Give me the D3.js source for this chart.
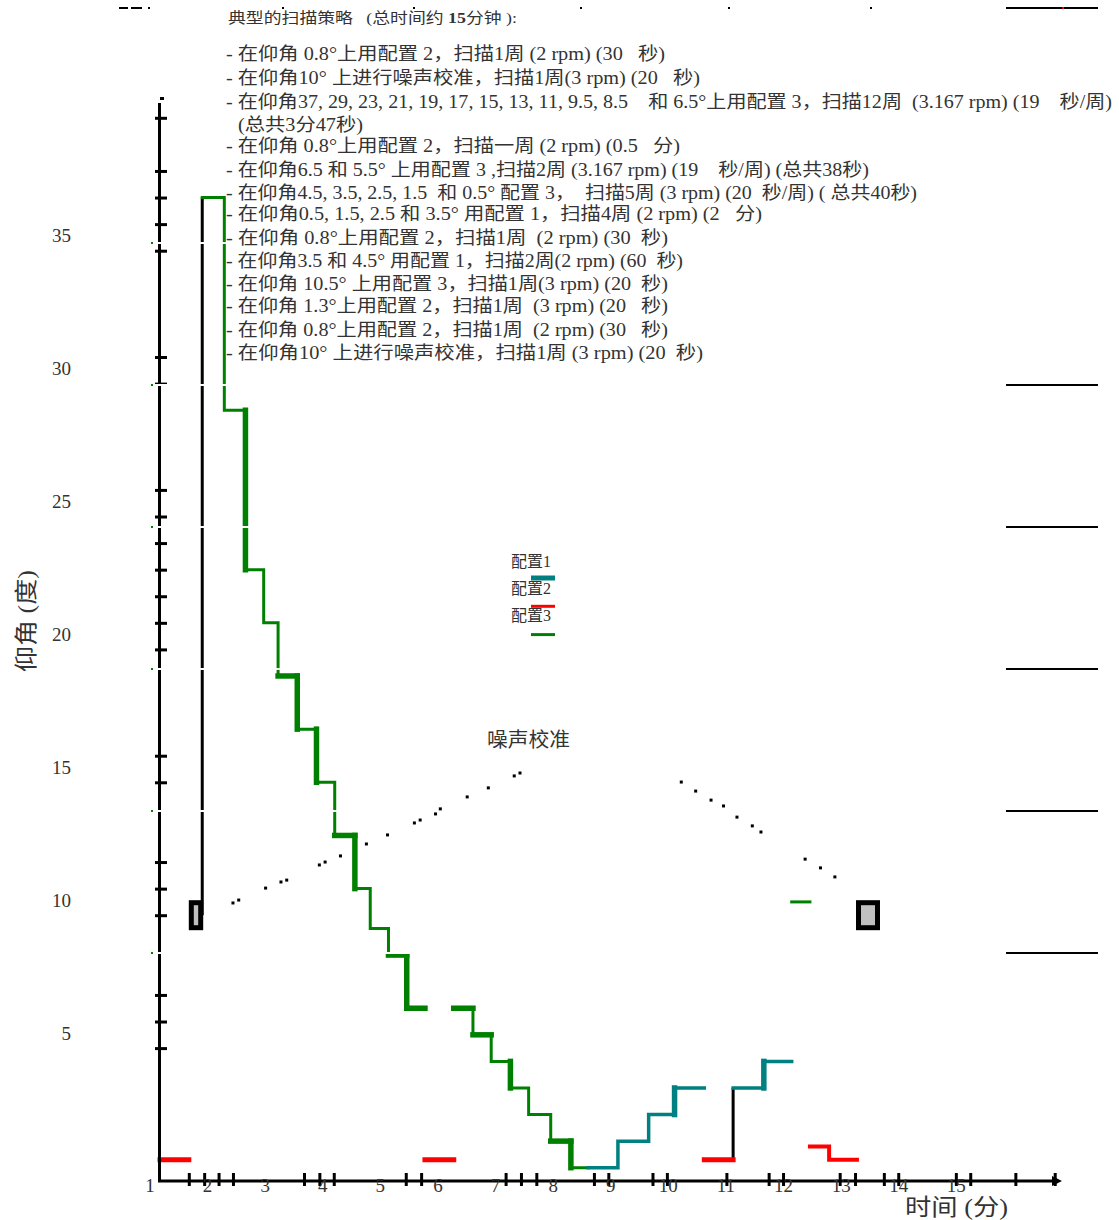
<!DOCTYPE html>
<html><head><meta charset="utf-8">
<script src="https://cdn.jsdelivr.net/npm/d3@7"></script>
<style>body{margin:0;background:#fff} svg{display:block}</style>
</head><body><svg id="c" width="1119" height="1220"></svg>
<script>
// ---------------- data (time in seconds from start, elevation in degrees) -------------
const yTickLabels = [5, 10, 15, 20, 25, 30, 35];
const yTickMarks = [5, 6, 7, 10, 11, 12, 15, 16, 20, 21, 22, 23, 24, 25, 26, 30, 31, 35, 36, 37, 38, 40];
const xTickLabels = [1, 2, 3, 4, 5, 6, 7, 8, 9, 10, 11, 12, 13, 14, 15];
const xTickMarks = [30, 46, 61, 76, 150, 166, 181, 256, 272, 360, 376, 392, 452, 467, 513, 528, 590, 634, 649, 708, 724, 754, 769, 829, 844, 891, 932];

// configuration 3 (green)
const c3Times1 = [44, 67, 89, 108, 123, 143, 163, 182, 203, 219, 238, 257, 276];
const c3Elev1  = [37, 29, 23, 21, 19, 17, 15, 13, 11, 9.5, 8.5, 6.5];
const c3Times2 = [306, 326, 345, 365, 384, 407, 428, 446];
const c3Elev2  = [6.5, 5.5, 4.5, 3.5, 2.5, 1.5, 0.5];
const c3Times3 = [658, 677];
const c3Elev3  = [10.5];
// configuration 1 (teal)
const c1Times1 = [446, 477, 509, 536, 567];
const c1Elev1  = [0.5, 1.5, 2.5, 3.5];
const c1Times2 = [597, 629, 658];
const c1Elev2  = [3.5, 4.5];
// configuration 2 (red)
const c2Times1 = [0, 30];    const c2Elev1 = [0.8];
const c2Times2 = [276, 306]; const c2Elev2 = [0.8];
const c2Times3 = [567, 597]; const c2Elev3 = [0.8];
const c2Times4 = [677, 697, 726]; const c2Elev4 = [1.3, 0.8];
// noise calibration
const noiseStart = [30, 725];
const noiseEnd   = [45, 750];
const noiseElev  = [10, 10];
// black transitions: time, from elevation, to elevation
const transTime = [44, 597];
const transFrom = [10, 0.8];
const transTo   = [37, 3.5];
// noise-calibration dotted arc
const arcTime = [76, 82, 110, 126, 132, 166, 172, 188, 215, 237, 265, 271, 287, 292, 320, 342, 369, 375,
                 543, 558, 574, 587, 601, 617, 626, 672, 688, 703];
const arcElev = [10.46, 10.57, 11.02, 11.25, 11.32, 11.89, 12.0, 12.23, 12.68, 13.02, 13.47, 13.58, 13.81, 14.0, 14.45, 14.79, 15.24, 15.35,
                 15.01, 14.67, 14.33, 14.11, 13.69, 13.36, 13.13, 12.11, 11.78, 11.44];

const legendLabels = ["配置1", "配置2", "配置3"];
const noiseLabel = "噪声校准";
const xTitle = "时间 (分)";
const yTitle = "仰角 (度)";
const notesTitle = ["典型的扫描策略   (总时间约 ", "15", "分钟 ):"];
const notes = [
  "- 在仰角 0.8°上用配置 2，扫描1周 (2 rpm) (30   秒)",
  "- 在仰角10° 上进行噪声校准，扫描1周(3 rpm) (20   秒)",
  "- 在仰角37, 29, 23, 21, 19, 17, 15, 13, 11, 9.5, 8.5    和 6.5°上用配置 3，扫描12周  (3.167 rpm) (19    秒/周)",
  "(总共3分47秒)",
  "- 在仰角 0.8°上用配置 2，扫描一周 (2 rpm) (0.5   分)",
  "- 在仰角6.5 和 5.5° 上用配置 3 ,扫描2周 (3.167 rpm) (19    秒/周) (总共38秒)",
  "- 在仰角4.5, 3.5, 2.5, 1.5  和 0.5° 配置 3，  扫描5周 (3 rpm) (20  秒/周) ( 总共40秒)",
  "- 在仰角0.5, 1.5, 2.5 和 3.5° 用配置 1，扫描4周 (2 rpm) (2   分)",
  "- 在仰角 0.8°上用配置 2，扫描1周  (2 rpm) (30  秒)",
  "- 在仰角3.5 和 4.5° 用配置 1，扫描2周(2 rpm) (60  秒)",
  "- 在仰角 10.5° 上用配置 3，扫描1周(3 rpm) (20  秒)",
  "- 在仰角 1.3°上用配置 2，扫描1周  (3 rpm) (20   秒)",
  "- 在仰角 0.8°上用配置 2，扫描1周  (2 rpm) (30   秒)",
  "- 在仰角10° 上进行噪声校准，扫描1周 (3 rpm) (20  秒)"
];

// ---------------- styles -------------
const FONT = "'Liberation Serif','Noto Sans CJK SC',serif";
const TXT = "#333";
const GREEN = "#008000", TEAL = "#008080", RED = "#ff0000";
// layout of the notes block (text x, baseline y, rendered width)
const noteX = [226, 226, 226, 238, 226, 226, 226, 226, 226, 226, 226, 226, 226, 226];
const noteY = [60, 84, 108, 131, 152, 176, 199, 220, 244, 267, 290, 312, 336, 359];
const noteW = [439, 474, 886, 125, 454, 643, 691, 536, 442, 457, 442, 442, 442, 477];
// segments drawn heavier (index into H0,V0,H1,V1,... of each run), scan look
const boldC3a = [3, 8, 9, 11, 14, 15, 20, 21, 22];
const boldC3b = [0, 2, 5, 10, 11];
const boldC1a = [5];
const boldC1b = [1];

// ---------------- drawing -------------
const svg = d3.select("#c");
const xs = d3.scaleLinear().domain([0, 900]).range([160, 160 + 900 * 0.96]);
const ys = d3.scaleLinear().domain([0, 40]).range([1181, 1181 - 40 * 26.58]);
// tick label scale (labels sit slightly left of the scan timeline)
const xLab = d3.scaleLinear().domain([1, 15]).range([xs(-11), xs(829)]);

function stepPoints(times, elev) {
  const pts = [];
  elev.forEach((e, i) => { pts.push([times[i], e]); pts.push([times[i + 1], e]); });
  return pts;
}
const line = d3.line().x(d => xs(d[0])).y(d => ys(d[1]));

const plot = svg.append("g");

// transitions
transTime.forEach((t, i) => {
  plot.append("line").attr("x1", xs(t)).attr("x2", xs(t))
    .attr("y1", ys(transFrom[i])).attr("y2", ys(transTo[i]))
    .attr("stroke", "#000").attr("stroke-width", 3);
});

function drawRun(times, elev, color, w, bold) {
  const pts = stepPoints(times, elev);
  plot.append("path").attr("d", line(pts))
    .attr("fill", "none").attr("stroke", color).attr("stroke-width", w)
    .attr("stroke-linejoin", "miter").attr("stroke-linecap", "square");
  (bold || []).forEach(k => {
    const a = pts[k], b = pts[k + 1];
    if (!a || !b) return;
    plot.append("path").attr("d", line([a, b])).attr("fill", "none")
      .attr("stroke", color).attr("stroke-width", 5.5).attr("stroke-linecap", "square");
  });
}
drawRun(c3Times1, c3Elev1, GREEN, 3, boldC3a);
drawRun(c3Times2, c3Elev2, GREEN, 3, boldC3b);
drawRun(c3Times3, c3Elev3, GREEN, 3);
drawRun(c1Times1, c1Elev1, TEAL, 3.5, boldC1a);
drawRun(c1Times2, c1Elev2, TEAL, 3.5, boldC1b);
drawRun(c2Times1, c2Elev1, RED, 5);
drawRun(c2Times2, c2Elev2, RED, 5);
drawRun(c2Times3, c2Elev3, RED, 5);
drawRun(c2Times4, c2Elev4, RED, 4);

// noise boxes
noiseStart.forEach((s, i) => {
  const x0 = xs(s), x1 = xs(noiseEnd[i]), yc = ys(noiseElev[i]);
  plot.append("rect").attr("x", x0 + 2.5).attr("y", yc - 12.5)
    .attr("width", x1 - x0 - 5).attr("height", 25)
    .attr("fill", "#c0c0c0").attr("stroke", "#000").attr("stroke-width", 5);
});

// dotted arc
arcTime.forEach((t, i) => {
  plot.append("rect").attr("x", xs(t) - 1.5).attr("y", ys(arcElev[i]) - 1.5)
    .attr("width", 3).attr("height", 3).attr("fill", "#000");
});

// axes
const xAxisMarks = d3.axisBottom(xs).tickValues(xTickMarks).tickFormat("").tickSizeOuter(0);
const gx = svg.append("g").attr("transform", "translate(0,1181)").call(xAxisMarks);
gx.select(".domain").remove();
gx.selectAll(".tick line").attr("y1", -8).attr("y2", 5).attr("stroke", "#000").attr("stroke-width", 3);
svg.append("line").attr("x1", 158).attr("x2", 1058).attr("y1", 1181).attr("y2", 1181)
  .attr("stroke", "#000").attr("stroke-width", 3);
svg.append("path").attr("d", "M1052,1176 L1062,1181 L1052,1186 Z").attr("fill", "#000");

const yAxisMarks = d3.axisLeft(ys).tickValues(yTickMarks).tickFormat("").tickSizeOuter(0);
const gy = svg.append("g").attr("transform", "translate(160,0)").call(yAxisMarks);
gy.select(".domain").remove();
gy.selectAll(".tick line").attr("x1", -5).attr("x2", 7).attr("stroke", "#000").attr("stroke-width", 3);
svg.append("line").attr("x1", 159.5).attr("x2", 159.5).attr("y1", 103).attr("y2", 1182)
  .attr("stroke", "#000").attr("stroke-width", 3);
svg.append("rect").attr("x", 160).attr("y", 97).attr("width", 4).attr("height", 3).attr("fill", "#000");

// scan artefacts: page-break rules (drawn under the text)
const rules = [243, 385, 527, 669, 811, 953];
rules.forEach(y => {
  svg.append("rect").attr("x", 148).attr("y", y - 1).attr("width", 272).attr("height", 2).attr("fill", "#fff");
  svg.append("rect").attr("x", 151).attr("y", y - 1).attr("width", 2).attr("height", 2).attr("fill", GREEN);
});
[385, 527, 669, 811, 953, 8].forEach(y => {
  svg.append("rect").attr("x", 1006).attr("y", y - 1).attr("width", 92).attr("height", 2).attr("fill", "#000");
});
svg.append("rect").attr("x", 1062).attr("y", 7).attr("width", 2).attr("height", 2).attr("fill", RED);
[[119, 9], [131, 11], [148, 2]].forEach(d => svg.append("rect").attr("x", d[0]).attr("y", 7).attr("width", d[1]).attr("height", 2).attr("fill", "#000"));
[282, 413, 580, 728, 870].forEach(x => svg.append("rect").attr("x", x).attr("y", 7).attr("width", 2).attr("height", 2).attr("fill", "#000"));

// tick labels
const gxl = svg.append("g").attr("transform", "translate(0,1192)")
  .call(d3.axisBottom(xLab).tickValues(xTickLabels).tickSize(0).tickPadding(0));
gxl.select(".domain").remove();
gxl.selectAll("text").attr("font-family", FONT).attr("font-size", 19).attr("fill", TXT)
  .attr("dy", 0).attr("y", 0);

const gyl = svg.append("g").attr("transform", "translate(71,-15)")
  .call(d3.axisLeft(ys).tickValues(yTickLabels).tickSize(0).tickPadding(0));
gyl.select(".domain").remove();
gyl.selectAll("text").attr("font-family", FONT).attr("font-size", 19).attr("fill", TXT);

// axis titles
svg.append("text").attr("x", 905).attr("y", 1215).attr("font-family", FONT)
  .attr("font-size", 23).attr("fill", TXT).attr("textLength", 103)
  .attr("lengthAdjust", "spacingAndGlyphs").text(xTitle);
svg.append("text").attr("transform", "translate(34,621) rotate(-90)").attr("text-anchor", "middle")
  .attr("font-family", FONT).attr("font-size", 23).attr("fill", TXT).attr("textLength", 102)
  .attr("lengthAdjust", "spacingAndGlyphs").text(yTitle);

// legend
const legColors = [TEAL, RED, GREEN];
const legW = [5, 3, 3];
legendLabels.forEach((l, i) => {
  svg.append("text").attr("x", 511).attr("y", 567 + i * 27).attr("font-family", FONT)
    .attr("font-size", 16).attr("fill", TXT).text(l);
  svg.append("line").attr("x1", 531).attr("x2", 555).attr("y1", 578 + i * 28.3).attr("y2", 578 + i * 28.3)
    .attr("stroke", legColors[i]).attr("stroke-width", legW[i]);
});
svg.append("text").attr("x", 487).attr("y", 747).attr("font-family", FONT)
  .attr("font-size", 20).attr("fill", TXT).attr("textLength", 83)
  .attr("lengthAdjust", "spacingAndGlyphs").text(noiseLabel);

// notes
const tt = svg.append("text").attr("x", 228).attr("y", 23).attr("font-family", FONT)
  .attr("font-size", 15).attr("fill", TXT).style("white-space", "pre")
  .attr("textLength", 289).attr("lengthAdjust", "spacingAndGlyphs");
tt.append("tspan").text(notesTitle[0]);
tt.append("tspan").attr("font-weight", "bold").text(notesTitle[1]);
tt.append("tspan").text(notesTitle[2]);
notes.forEach((n, i) => {
  svg.append("text").attr("x", noteX[i]).attr("y", noteY[i]).attr("font-family", FONT)
    .attr("font-size", 18).attr("fill", TXT).style("white-space", "pre")
    .attr("textLength", noteW[i]).attr("lengthAdjust", "spacingAndGlyphs").text(n);
});
</script></body></html>
